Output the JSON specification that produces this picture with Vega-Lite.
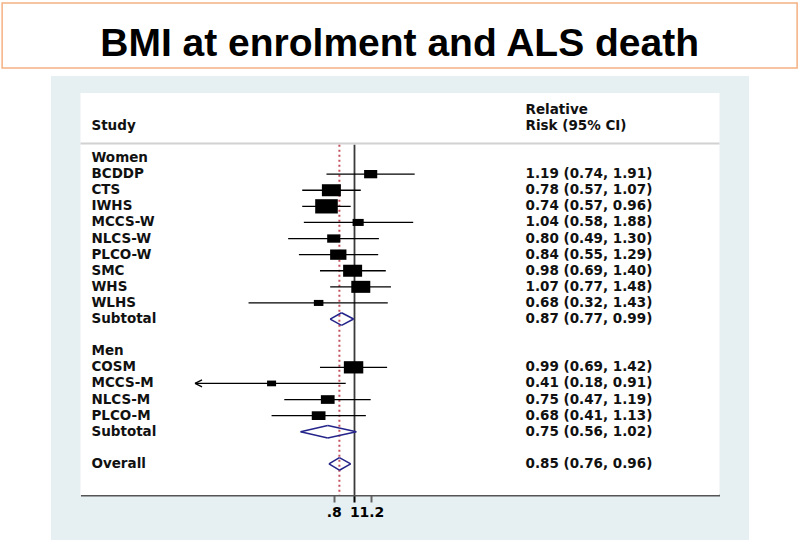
{
  "$schema": "https://vega.github.io/schema/vega-lite/v6.json",
  "background": "white",
  "padding": {"left": 1, "top": 2, "right": 4, "bottom": 0},
  "autosize": {"type": "pad"},
  "spacing": 7,
  "center": true,
  "config": {
    "view": {"stroke": null},
    "axisY": {"disable": true},
    "text": {"font": "DejaVu Sans"}
  },
  "vconcat": [
    {
      "width": 795,
      "height": 65,
      "view": {"fill": "white", "stroke": "#f4b183", "strokeWidth": 1.5},
      "data": {"values": [{"title": "BMI at enrolment and ALS death"}]},
      "mark": {"type": "text", "font": "Liberation Sans", "fontWeight": "bold", "fontSize": 39, "baseline": "alphabetic", "dy": 20.5, "color": "black"},
      "encoding": {"text": {"field": "title"}}
    },
    {
      "width": 698,
      "height": 466,
      "view": {"fill": "#e6eff1", "stroke": null},
      "data": {"values": [
        {"row": 0, "study": "Women", "type": "group"},
        {"row": 1, "study": "BCDDP", "type": "study", "rr": 1.19, "lower": 0.74, "upper": 1.91, "weight": 5.3, "rr_ci": "1.19 (0.74, 1.91)"},
        {"row": 2, "study": "CTS", "type": "study", "rr": 0.78, "lower": 0.57, "upper": 1.07, "weight": 11.1, "rr_ci": "0.78 (0.57, 1.07)"},
        {"row": 3, "study": "IWHS", "type": "study", "rr": 0.74, "lower": 0.57, "upper": 0.96, "weight": 15.7, "rr_ci": "0.74 (0.57, 0.96)"},
        {"row": 4, "study": "MCCS-W", "type": "study", "rr": 1.04, "lower": 0.58, "upper": 1.88, "weight": 3.8, "rr_ci": "1.04 (0.58, 1.88)"},
        {"row": 5, "study": "NLCS-W", "type": "study", "rr": 0.80, "lower": 0.49, "upper": 1.30, "weight": 5.3, "rr_ci": "0.80 (0.49, 1.30)"},
        {"row": 6, "study": "PLCO-W", "type": "study", "rr": 0.84, "lower": 0.55, "upper": 1.29, "weight": 8.2, "rr_ci": "0.84 (0.55, 1.29)"},
        {"row": 7, "study": "SMC", "type": "study", "rr": 0.98, "lower": 0.69, "upper": 1.40, "weight": 11.1, "rr_ci": "0.98 (0.69, 1.40)"},
        {"row": 8, "study": "WHS", "type": "study", "rr": 1.07, "lower": 0.77, "upper": 1.48, "weight": 11.1, "rr_ci": "1.07 (0.77, 1.48)"},
        {"row": 9, "study": "WLHS", "type": "study", "rr": 0.68, "lower": 0.32, "upper": 1.43, "weight": 2.8, "rr_ci": "0.68 (0.32, 1.43)"},
        {"row": 10, "study": "Subtotal", "type": "subtotal", "rr": 0.87, "lower": 0.77, "upper": 0.99, "rr_ci": "0.87 (0.77, 0.99)"},
        {"row": 12, "study": "Men", "type": "group"},
        {"row": 13, "study": "COSM", "type": "study", "rr": 0.99, "lower": 0.69, "upper": 1.42, "weight": 11.6, "rr_ci": "0.99 (0.69, 1.42)"},
        {"row": 14, "study": "MCCS-M", "type": "study", "rr": 0.41, "lower": 0.18, "upper": 0.91, "weight": 2.5, "rr_ci": "0.41 (0.18, 0.91)"},
        {"row": 15, "study": "NLCS-M", "type": "study", "rr": 0.75, "lower": 0.47, "upper": 1.19, "weight": 5.8, "rr_ci": "0.75 (0.47, 1.19)"},
        {"row": 16, "study": "PLCO-M", "type": "study", "rr": 0.68, "lower": 0.41, "upper": 1.13, "weight": 5.8, "rr_ci": "0.68 (0.41, 1.13)"},
        {"row": 17, "study": "Subtotal", "type": "subtotal", "rr": 0.75, "lower": 0.56, "upper": 1.02, "rr_ci": "0.75 (0.56, 1.02)"},
        {"row": 19, "study": "Overall", "type": "overall", "rr": 0.85, "lower": 0.76, "upper": 0.96, "rr_ci": "0.85 (0.76, 0.96)"}
      ]},
      "layer": [
        {
          "data": {"values": [{}]},
          "mark": {"type": "rect", "color": "white"},
          "encoding": {
            "x": {"datum": 0.05254, "type": "quantitative", "scale": {"type": "log", "domain": [0.05254, 50.64], "range": [29.5, 668.5], "nice": false}},
            "x2": {"datum": 50.64},
            "y": {"datum": -4.04, "type": "quantitative", "scale": {"domain": [-4.04, 20.93], "range": [17, 419], "nice": false, "zero": false}},
            "y2": {"datum": 20.93}
          }
        },
        {
          "data": {"values": [{}]},
          "mark": {"type": "rule", "color": "#d2d2d2", "strokeWidth": 2},
          "encoding": {
            "x": {"datum": 0.05254, "type": "quantitative"},
            "x2": {"datum": 50.64},
            "y": {"datum": -0.9, "type": "quantitative"}
          }
        },
        {
          "data": {"values": [{}]},
          "mark": {"type": "rule", "color": "#3a3a3a", "strokeWidth": 1.8},
          "encoding": {
            "x": {"datum": 1, "type": "quantitative"},
            "y": {"datum": -0.83, "type": "quantitative"},
            "y2": {"datum": 20.93}
          }
        },
        {
          "transform": [{"filter": "datum.type == 'overall'"}],
          "mark": {"type": "rule", "color": "#c4505e", "strokeWidth": 2, "strokeDash": [2, 3]},
          "encoding": {
            "x": {"field": "rr", "type": "quantitative"},
            "y": {"datum": -0.83, "type": "quantitative"},
            "y2": {"datum": 20.93}
          }
        },
        {
          "transform": [{"filter": "datum.type == 'study'"}],
          "mark": {"type": "rule", "color": "black", "strokeWidth": 1.3},
          "encoding": {
            "x": {"field": "lower", "type": "quantitative", "axis": {
              "values": [0.8, 1, 1.2],
              "labelExpr": "datum.value == 0.8 ? '.8' : (datum.value == 1 ? '1' : '1.2')",
              "title": null, "grid": false, "offset": -47,
              "domainColor": "#555555", "domainWidth": 2,
              "tickColor": {"condition": {"test": "datum.value == 1", "value": "black"}, "value": "#666666"},
              "tickWidth": 2, "tickSize": 7,
              "labelFont": "DejaVu Sans", "labelFontSize": 14, "labelFontWeight": "bold", "labelColor": "black",
              "labelPadding": 3, "labelOverlap": false, "labelFlush": false, "labelBound": false
            }},
            "x2": {"field": "upper"},
            "y": {"field": "row", "type": "quantitative"}
          }
        },
        {
          "transform": [{"filter": "datum.type == 'study' && datum.lower < 0.2"}],
          "mark": {"type": "rule", "color": "black", "strokeWidth": 1.3, "x2Offset": 7, "y2Offset": -3.5},
          "encoding": {
            "x": {"field": "lower", "type": "quantitative"},
            "x2": {"field": "lower"},
            "y": {"field": "row", "type": "quantitative"},
            "y2": {"field": "row"}
          }
        },
        {
          "transform": [{"filter": "datum.type == 'study' && datum.lower < 0.2"}],
          "mark": {"type": "rule", "color": "black", "strokeWidth": 1.3, "x2Offset": 7, "y2Offset": 3.5},
          "encoding": {
            "x": {"field": "lower", "type": "quantitative"},
            "x2": {"field": "lower"},
            "y": {"field": "row", "type": "quantitative"},
            "y2": {"field": "row"}
          }
        },
        {
          "transform": [{"filter": "datum.type == 'study'"}],
          "mark": {"type": "point", "shape": "M-1.58,-1L1.58,-1L1.58,1L-1.58,1Z", "filled": true, "color": "black", "opacity": 1, "strokeWidth": 0},
          "encoding": {
            "x": {"field": "rr", "type": "quantitative"},
            "y": {"field": "row", "type": "quantitative"},
            "size": {"field": "weight", "type": "quantitative", "legend": null, "scale": {"type": "linear", "domain": [0, 15.7], "range": [0, 204.5], "zero": true}}
          }
        },
        {
          "transform": [{"filter": "datum.type == 'subtotal' || datum.type == 'overall'"}],
          "mark": {"type": "rule", "color": "#24248a", "strokeWidth": 1.5, "y2Offset": -6.3},
          "encoding": {"x": {"field": "lower", "type": "quantitative"}, "x2": {"field": "rr"}, "y": {"field": "row", "type": "quantitative"}, "y2": {"field": "row"}}
        },
        {
          "transform": [{"filter": "datum.type == 'subtotal' || datum.type == 'overall'"}],
          "mark": {"type": "rule", "color": "#24248a", "strokeWidth": 1.5, "y2Offset": 6.3},
          "encoding": {"x": {"field": "lower", "type": "quantitative"}, "x2": {"field": "rr"}, "y": {"field": "row", "type": "quantitative"}, "y2": {"field": "row"}}
        },
        {
          "transform": [{"filter": "datum.type == 'subtotal' || datum.type == 'overall'"}],
          "mark": {"type": "rule", "color": "#24248a", "strokeWidth": 1.5, "y2Offset": -6.3},
          "encoding": {"x": {"field": "upper", "type": "quantitative"}, "x2": {"field": "rr"}, "y": {"field": "row", "type": "quantitative"}, "y2": {"field": "row"}}
        },
        {
          "transform": [{"filter": "datum.type == 'subtotal' || datum.type == 'overall'"}],
          "mark": {"type": "rule", "color": "#24248a", "strokeWidth": 1.5, "y2Offset": 6.3},
          "encoding": {"x": {"field": "upper", "type": "quantitative"}, "x2": {"field": "rr"}, "y": {"field": "row", "type": "quantitative"}, "y2": {"field": "row"}}
        },
        {
          "mark": {"type": "text", "align": "left", "baseline": "middle", "fontSize": 13.5, "fontWeight": "bold", "color": "#111111"},
          "encoding": {
            "x": {"datum": 0.0591, "type": "quantitative"},
            "y": {"field": "row", "type": "quantitative"},
            "text": {"field": "study"}
          }
        },
        {
          "transform": [{"filter": "isValid(datum.rr_ci)"}],
          "mark": {"type": "text", "align": "left", "baseline": "middle", "fontSize": 13.5, "fontWeight": "bold", "color": "#111111"},
          "encoding": {
            "x": {"datum": 6.29, "type": "quantitative"},
            "y": {"field": "row", "type": "quantitative"},
            "text": {"field": "rr_ci"}
          }
        },
        {
          "data": {"values": [{"label": "Study"}]},
          "mark": {"type": "text", "align": "left", "baseline": "middle", "fontSize": 13.5, "fontWeight": "bold", "color": "#111111"},
          "encoding": {
            "x": {"datum": 0.0591, "type": "quantitative"},
            "y": {"datum": -2, "type": "quantitative"},
            "text": {"field": "label"}
          }
        },
        {
          "data": {"values": [{"label": "Relative"}]},
          "mark": {"type": "text", "align": "left", "baseline": "middle", "fontSize": 13.5, "fontWeight": "bold", "color": "#111111"},
          "encoding": {
            "x": {"datum": 6.29, "type": "quantitative"},
            "y": {"datum": -3, "type": "quantitative"},
            "text": {"field": "label"}
          }
        },
        {
          "data": {"values": [{"label": "Risk (95% CI)"}]},
          "mark": {"type": "text", "align": "left", "baseline": "middle", "fontSize": 13.5, "fontWeight": "bold", "color": "#111111"},
          "encoding": {
            "x": {"datum": 6.29, "type": "quantitative"},
            "y": {"datum": -2, "type": "quantitative"},
            "text": {"field": "label"}
          }
        }
      ]
    }
  ]
}
